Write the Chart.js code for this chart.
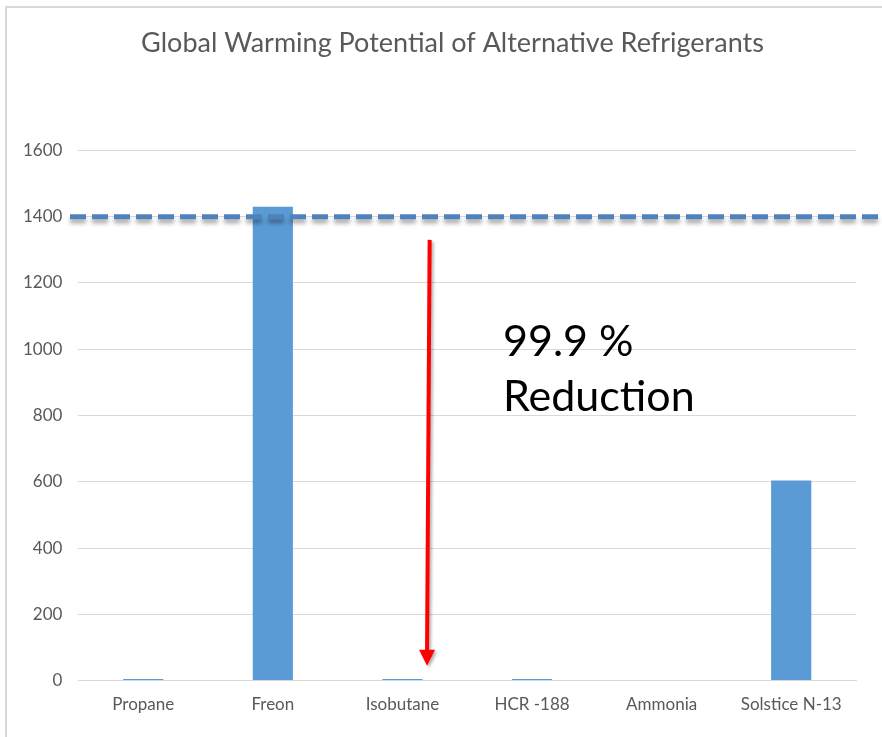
<!DOCTYPE html>
<html>
<head>
<meta charset="utf-8">
<script src="https://cdn.jsdelivr.net/npm/chart.js@4.4.1/dist/chart.umd.min.js"></script>
<style>
  body { margin: 0; background: #fff; }
  #wrap { position: relative; width: 882px; height: 737px; }
  #wrap:before {
    content: ''; position: absolute; left: 5px; top: 6px; right: 0; bottom: 0;
    border-left: 2px solid #d9d9d9; border-top: 2px solid #d9d9d9;
  }
  canvas { position: absolute; left: 0; top: 0; }
</style>
</head>
<body>
<div id="wrap"><canvas id="gwp" width="882" height="737"></canvas></div>
<script>
const refrigerants = ['Propane', 'Freon', 'Isobutane', 'HCR -188', 'Ammonia', 'Solstice N-13']
const gwpValues = [5, 1430, 5, 5, 0, 604]
const yTicks = [0, 200, 400, 600, 800, 1000, 1200, 1400, 1600]
const freonLevel = 1400
const noteLines = ['99.9 %', 'Reduction']

const grey = '#595959'
const font = 'Lato'

// dashed Freon level, red arrow and the note
const overlay = {
  id: 'overlay',
  afterLayout(chart) {
    // title sits a little right of the canvas centre
    chart.titleBlock.left += 21
    chart.titleBlock.right += 21
  },
  afterDatasetsDraw(chart) {
    const { ctx, scales: { x, y } } = chart
    ctx.save()

    const ly = y.getPixelForValue(freonLevel)
    ctx.shadowColor = 'rgba(0,0,0,0.35)'
    ctx.shadowBlur = 4
    ctx.shadowOffsetY = 4
    ctx.strokeStyle = '#4f81bd'
    ctx.lineWidth = 5
    ctx.setLineDash([16, 6])
    ctx.beginPath()
    ctx.moveTo(70, ly)
    ctx.lineTo(chart.width, ly)
    ctx.stroke()

    // arrow
    const step = x.getPixelForValue(1) - x.getPixelForValue(0)
    const ax0 = x.getPixelForValue(2) + step * 0.21
    const ax1 = x.getPixelForValue(2) + step * 0.19
    const ay0 = y.getPixelForValue(1330)
    const ay1 = y.getPixelForValue(45)
    ctx.setLineDash([])
    ctx.shadowBlur = 3
    ctx.shadowOffsetX = 2
    ctx.shadowOffsetY = 2
    ctx.shadowColor = 'rgba(0,0,0,0.3)'
    ctx.strokeStyle = '#ff0000'
    ctx.fillStyle = '#ff0000'
    ctx.lineWidth = 4
    ctx.beginPath()
    ctx.moveTo(ax0, ay0)
    ctx.lineTo(ax1, ay1 - 14)
    ctx.stroke()
    ctx.beginPath()
    ctx.moveTo(ax1 - 8, ay1 - 16)
    ctx.lineTo(ax1 + 8, ay1 - 16)
    ctx.lineTo(ax1, ay1)
    ctx.closePath()
    ctx.fill()

    ctx.shadowColor = 'transparent'
    ctx.fillStyle = '#000'
    ctx.font = `43px ${font}`
    ctx.textBaseline = 'alphabetic'
    ctx.fillText(noteLines[0], 503, 356)
    ctx.fillText(noteLines[1], 503, 411)
    ctx.restore()
  },
}

new Chart(document.getElementById('gwp'), {
  type: 'bar',
  data: {
    labels: refrigerants,
    datasets: [{
      label: 'GWP',
      data: gwpValues,
      backgroundColor: '#5b9bd5',
      categoryPercentage: 1,
      barPercentage: 0.31,
    }],
  },
  options: {
    responsive: false,
    animation: false,
    devicePixelRatio: 1,
    layout: { padding: { left: 7, right: 26, top: 27, bottom: 16 } },
    plugins: {
      legend: { display: false },
      tooltip: { enabled: false },
      title: {
        display: true,
        text: 'Global Warming Potential of Alternative Refrigerants',
        color: grey,
        font: { family: font, size: 27, weight: 'normal' },
        padding: { top: 0, bottom: 91 },
      },
    },
    scales: {
      x: {
        grid: { display: false },
        border: { color: '#d9d9d9' },
        ticks: { color: grey, font: { family: font, size: 17 }, padding: 6 },
      },
      y: {
        min: 0,
        max: 1600,
        afterBuildTicks: (axis) => { axis.ticks = yTicks.map((v) => ({ value: v })) },
        grid: { color: '#d9d9d9', drawTicks: false },
        border: { display: false },
        ticks: {
          color: grey,
          font: { family: font, size: 17 },
          padding: 16,
          callback: (v) => String(v),
        },
      },
    },
  },
  plugins: [overlay],
})
</script>
</body>
</html>
